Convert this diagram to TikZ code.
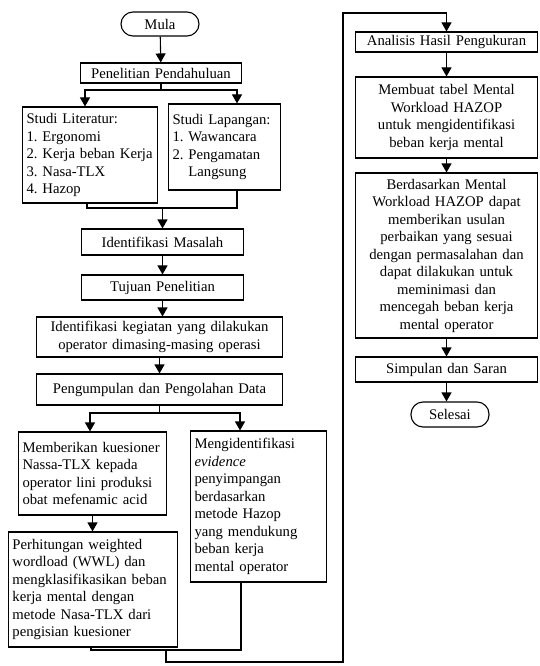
\documentclass[tikz,border=0pt]{standalone}
\usepackage{fontspec}
\setmainfont{Liberation Serif}
\usetikzlibrary{arrows.meta}
\frenchspacing
\tikzset{
  box/.style={draw, line width=1.1pt, inner xsep=4pt, inner ysep=2pt, font=\fontsize{14.7}{17.5}\selectfont},
  terminal/.style={box, rounded corners=12pt, minimum width=78pt, minimum height=24pt},
  arr/.style={-{Triangle[width=10pt,length=9pt]}, line width=1.1pt},
  line/.style={line width=1.1pt}
}
\begin{document}
\begin{tikzpicture}[x=1pt,y=-1pt]
\useasboundingbox (0,0) rectangle (540,666);

\node[terminal] (mula) at (160,24) {Mula};
\node[box, text width=153pt, align=center, minimum height=20pt] (pp) at (161,73) {Penelitian Pendahuluan};
\node[box, text width=127pt, align=left, minimum height=96pt] (lit) at (90,155)
  {Studi Literatur:\\ 1. Ergonomi\\ 2. Kerja beban Kerja\\ 3. Nasa-TLX\\ 4. Hazop};
\node[box, text width=104pt, align=left, minimum height=86pt] (lap) at (224.5,147)
  {Studi Lapangan:\\ 1. Wawancara\\ 2. Pengamatan\\ \hphantom{2. }Langsung};
\node[box, text width=154pt, align=center, minimum height=26pt] (mas) at (162.5,242) {Identifikasi Masalah};
\node[box, text width=154pt, align=center, minimum height=25pt] (tuj) at (162.5,287.5) {Tujuan Penelitian};
\node[box, text width=238pt, align=center, minimum height=40pt] (keg) at (159.5,337)
  {Identifikasi kegiatan yang dilakukan\\ operator dimasing-masing operasi};
\node[box, text width=238pt, align=center, minimum height=31pt] (kum) at (159.5,389.5) {Pengumpulan dan Pengolahan Data};
\node[box, text width=140pt, align=left, minimum height=83pt] (kues) at (92.5,473.5)
  {Memberikan kuesioner\\ Nassa-TLX kepada\\ operator lini produksi\\ obat mefenamic acid};
\node[box, text width=128pt, align=left, minimum height=151pt] (evi) at (258.5,506.5)
  {Mengidentifikasi\\ \textit{evidence}\\ penyimpangan\\ berdasarkan\\ metode Hazop\\ yang mendukung\\ beban kerja\\ mental operator};
\node[box, text width=161pt, align=left, minimum height=115pt] (wwl) at (93,589.5)
  {Perhitungan weighted\\ wordload (WWL) dan\\ mengklasifikasikan beban\\ kerja mental dengan\\ metode Nasa-TLX dari\\ pengisian kuesioner};

\node[box, text width=174pt, align=center, minimum height=20pt] (ana) at (446.5,42) {Analisis Hasil Pengukuran};
\node[box, text width=174pt, align=center, minimum height=81pt] (tab) at (446.5,117.5)
  {Membuat tabel Mental\\ Workload HAZOP\\ untuk mengidentifikasi\\ beban kerja mental};
\node[box, text width=174pt, align=center, minimum height=165pt] (usul) at (446.5,255.5)
  {Berdasarkan Mental\\ Workload HAZOP dapat\\ memberikan usulan\\ perbaikan yang sesuai\\ dengan permasalahan dan\\ dapat dilakukan untuk\\ meminimasi dan\\ mencegah beban kerja\\ mental operator};
\node[box, text width=174pt, align=center, minimum height=25pt] (simp) at (446.5,369.5) {Simpulan dan Saran};
\node[terminal, minimum height=25pt] (sel) at (450,414.5) {Selesai};

\coordinate (s1) at (161,90);
\coordinate (j1) at (162.5,208);
\coordinate (s2) at (159.5,413);
\coordinate (j2) at (166,650);
\coordinate (r1) at (343,662);
\coordinate (r2) at (343,13);

\draw[arr] (mula) -- (pp);
\draw[arr] (pp.south) -- (s1) -| ([xshift=-5pt]lit.north);
\draw[arr] (s1) -| ([xshift=12.5pt]lap.north);
\draw[line] ([xshift=-3pt]lit.south) |- (j1) -| ([xshift=12.5pt]lap.south);
\draw[arr] (j1) -- (j1 |- mas.north);
\draw[arr] (mas) -- (tuj);
\draw[arr] (tuj.south) -- (tuj.south |- keg.north);
\draw[arr] (keg) -- (kum);
\draw[arr] (kum.south) -- (s2) -| ([xshift=-2.5pt]kues.north);
\draw[arr] (s2) -| ([xshift=-18.5pt]evi.north);
\draw[arr] (kues.south) -- (kues.south |- wwl.north);
\draw[line] ([xshift=-2pt]wwl.south) |- (j2) -| ([xshift=-17.5pt]evi.south);
\draw[arr] (j2) |- (r1) -- (r2) -| (ana.north);
\draw[arr] (ana) -- (tab);
\draw[arr] (tab) -- (usul);
\draw[arr] (usul) -- (simp);
\draw[arr] (simp.south) -- (simp.south |- sel.north);
\end{tikzpicture}
\end{document}
